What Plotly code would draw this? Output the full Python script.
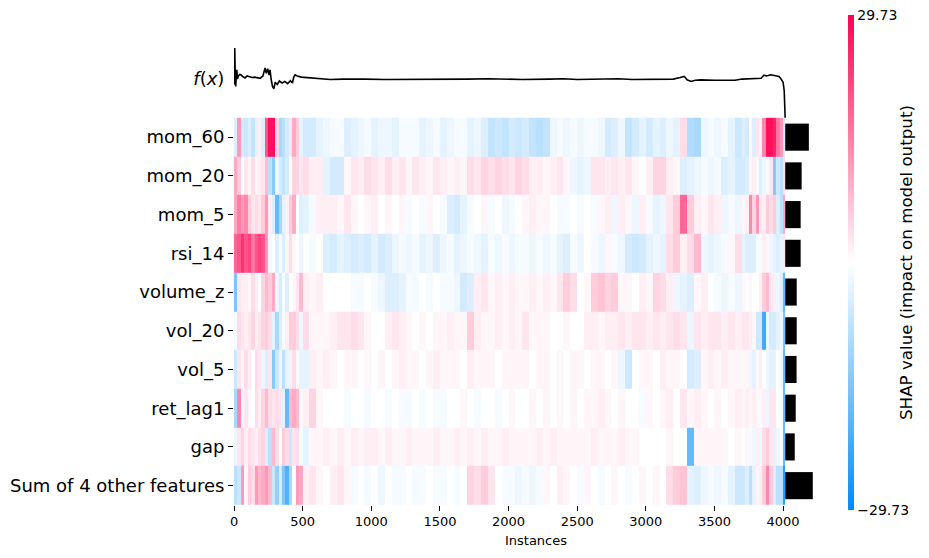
import numpy as np
import plotly.graph_objects as go

n_instances = 4016
# block edges of the heatmap (instances): 25-wide at both ends, 50-wide in the middle
block_starts = np.concatenate([np.arange(0, 500, 25), np.arange(500, 3700, 50),
                               np.arange(3700, 4000, 25), [4000]])

features = ["mom_60", "mom_20", "mom_5", "rsi_14", "volume_z", "vol_20",
            "vol_5", "ret_lag1", "gap", "Sum of 4 other features"]

# SHAP values per block
mom_60 = [-4, 12, -5, -6, -4, -7, -3, 2, -4, 20, 28, 28, 5, -10, -8, -5, 3, 10, 6, -3,
          -5, -5, -3, -2, -1, -1, -4, -3, -2, -1, -3, -2, -2, -3, -1, -1, -1, -3, -2, -1, -3, -2,
          -1, -1, -3, -2, -4, -7, -6, -7, -5, -6, -5, -7, -8, -7, -2, -1, -2, -1, -2, -1, -1, -2,
          -5, -4, -2, -7, -5, -3, -5, -3, -4, -2, -3, 4, -9, -10, -2, -1, -2, -1, -3, -6,
          -4, -5, 1, -4, 3, 2, 14, 28, 28, 26, 16, 12, -5]
mom_20 = [10, 6, 0, 3, 1, 4, 1, 2, 3, 8, -8, -14, -2, -5, -7, -5, 0, 5, 5, 3,
          4, 2, 2, -3, -5, -5, 1, 3, 2, 4, 3, 2, 4, 2, 3, 1, 3, 2, 1, 3, 2,
          1, 2, 1, 4, 3, 5, 4, 5, 4, 3, 5, 4, 2, 2, 1, 2, 3, 1, -2, -3, -2, 3, 3,
          2, 3, 2, 3, 1, 0, 2, 5, 5, 2, 1, -4, -3, -2, -1, -2, -1, -4, -3, -5,
          -5, -4, 1, 2, -1, -4, -2, -1, 3, -14, -6, -8, 4]
mom_5 = [10, 15, 12, 14, 6, 3, 4, 3, 6, 12, 2, -4, -18, -10, -3, 2, 6, 10, 0, -4,
         -3, -1, 2, 2, 2, 1, 3, 1, 0, 1, 2, 0, 1, 0, 1, -1, 0, -1, 1, 0, -1,
         -4, -5, -3, -1, 0, 1, -1, 0, -2, -1, 0, 1, 2, 1, 1, 0, -1, -1, 0, -1, 0,
         -1, 1, 2, -2, 2, 1, -2, 2, -1, -3, -2, 3, 6, 18, 6, 2, 1, 3, 2, -2, -1, -2,
         1, 2, 14, 5, 12, 3, 2, 6, 4, 6, -4, -8, 10]
rsi_14 = [18, 20, 24, 20, 22, 16, 20, 22, 20, 12, -2, 0, -4, -1, -4, 1, 4, 1, 0, -2,
          0, -1, 0, -4, -5, -3, -4, -5, -4, -5, -3, -5, -4, -2, -1, -2, -1, -3, -2, -4, -2,
          -1, -3, -2, -1, -2, -3, -1, -2, -1, -2, -1, -1, -2, -1, -2, -1, -3, -4, -1, -2, 0,
          -1, -2, 1, -1, -2, -5, -6, -5, -3, -2, -3, 4, 6, 2, 4, 8, -2, -3, -2, -1, 1, 4,
          -3, -4, -4, -4, -1, -1, 2, 1, -2, -3, -4, -3, 3]
volume_z = [-15, 3, 2, 2, 1, 4, 2, 0, 5, 8, 6, 10, -2, -5, -1, -4, 0, 1, 3, 8,
            2, 1, 2, 0, 0, 0, 0, -1, -1, 0, -1, -2, -4, -4, -3, -1, -1, 0, -1, 0, -1,
            -1, -2, -5, -4, 2, 3, 1, 2, 1, 2, 1, 1, 2, 1, 2, 1, 3, 6, 4, 0, 1,
            6, 7, 5, 6, 1, 1, 0, 2, 1, 5, 4, 2, -2, -3, -4, 1, 2, 0, -1, -2, -1, -2,
            1, 0, 1, 0, 0, 2, 6, 8, 3, 2, -2, -4, -18]
vol_20 = [-1, 4, 3, 2, 3, 5, 2, 3, 5, 6, 4, -3, -10, -4, -1, 2, 6, 6, 4, -2,
          4, 1, 1, 1, 2, 3, 3, 4, 3, 1, 0, 0, 2, 3, 2, 1, 0, 1, 0, 1, 1,
          2, 1, 1, 6, 2, 1, 1, 2, 1, 2, 1, 3, 1, 1, 1, 0, 0, 1, 0, 0, 2,
          2, 1, 2, 2, 3, 2, 3, 3, 2, 3, 2, 3, 4, 3, -2, 3, 2, 3, 3, 2, 3, 2,
          3, 3, 2, 1, -6, -5, -22, -2, -5, -5, -3, -2, -15]
vol_5 = [-6, 3, 1, 4, 2, 0, 4, 3, -2, -4, 3, -14, -6, -2, -8, -3, 2, 4, 1, -3,
         -3, 2, 1, 2, 1, 0, 1, 1, 0, 1, 0, 1, 0, 1, 2, 1, 1, 0, 1, 2, 1,
         1, 1, 0, 2, 1, 1, 1, 0, 1, 1, 1, 1, 0, 1, 1, 0, 1, 0, 1, 1, 0,
         1, 1, 0, 1, -2, -6, 0, 1, 1, 0, 2, 1, 1, 0, -5, -4, 1, 2, 1, 2, 1, 1,
         1, 1, -2, -3, 1, 2, 0, -2, -3, -3, 0, -2, -18]
ret_lag1 = [-10, 14, -2, 3, 1, 0, 4, 2, 5, 8, 4, 3, 4, 3, -3, -18, 8, 10, 8, 1,
            2, 5, 1, 0, 0, 0, -1, 0, 0, -1, 0, 0, -1, 0, -1, -1, 0, -1, 0, -1, -1,
            0, 0, 1, 0, -1, 0, 0, -1, 0, 1, 0, 0, 1, 0, 1, 0, 1, 0, 1, 0, 1,
            1, 2, 1, 0, 1, 0, 0, -1, 1, 0, 1, 2, 0, 3, 1, 2, 1, 0, 1, 0, 1, 2,
            1, 2, 1, 2, 1, -1, 2, -2, 3, 3, 0, -1, -18]
gap = [-2, 3, 5, 2, 4, 3, 2, 4, 5, -4, -8, 8, 4, 0, 6, 4, -6, 3, 4, -1,
       -3, 1, 1, 2, 1, 2, 1, 2, 1, 2, 2, 1, 2, 1, 1, 2, 1, 1, 1, 2, 1,
       1, 2, 1, 2, 1, 2, 1, 1, 2, 1, 1, 1, 1, 2, 1, 2, 1, 1, 1, 1, 1,
       2, 1, 1, 1, 2, 1, 1, 0, 0, 0, 0, 1, 0, 0, -18, 1, 1, 1, 1, 1, 0, 1,
       0, 1, -1, -2, 2, -2, 4, 6, 3, -3, -2, -1, -18]
other_4 = [-8, -6, 12, 1, 6, 4, 12, 8, 10, 12, 8, -6, -12, -5, -15, -20, -10, 0, 12, 10,
           2, 3, 1, 0, 2, 3, 1, -1, 0, -1, 0, -2, 0, -1, -1, 0, -1, -1, 0, -1, -1,
           0, -1, 0, 5, 4, 6, 3, 0, -1, -1, -2, -1, -2, -1, 1, 0, 2, 1, 0, -1, 1,
           0, -1, 0, 1, 0, -1, 0, 1, 0, 1, 0, 4, 6, 7, -3, -4, -2, -1, -2, -1, -3, -6,
           -6, -4, -8, -3, 1, 2, 6, 14, 6, -4, -8, -8, -25]

mean_abs_shap = [3.60, 2.50, 2.35, 2.35, 1.75, 1.75, 1.73, 1.60, 1.45, 4.20]

# model output f(x) along the instance order
fx_instance = [0, 3, 5, 8, 12, 16, 20, 25, 30, 40, 50, 65, 80, 95, 110, 130, 150, 170, 190,
               210, 226, 235, 245, 255, 262, 270, 280, 290, 300, 315, 330, 350, 370, 390,
               410, 425, 435, 445, 460, 490, 530, 580, 650, 700, 800, 880, 950, 1100, 1300,
               1500, 1700, 1850, 1950, 2100, 2300, 2400, 2500, 2750, 2800, 2900, 3100, 3200,
               3250, 3280, 3300, 3330, 3360, 3400, 3500, 3650, 3700, 3760, 3800, 3840, 3860,
               3880, 3910, 3940, 3970, 3985, 4000, 4008, 4015]
fx_value = [-14, 30, 80, 20, -19, 10, 24, 0, 7, 12, 11, 6, 3, 8, 7, 4, 5, 3, 2,
            8, 29, 15, 27, 10, 24, 0, -19, -25, -8, -14, -5, -10, -6, -12,
            -4, -10, 5, 11, 8, 5, 4, 2, 0, -1, 0, -1, 0, -1, -1,
            -1, 0, 1, 0, -1, 0, 1, -1, 0, 1, -1, -1, 0,
            4, 7, -2, -6, -3, -2, -3, -3, 0, 1, 3, 2, 10,
            8, 11, 8, 7, 0, -8, -30, -100]

color_limit = 29.73

font = "DejaVu Sans"
rows = list(range(len(features)))
z = [mom_60, mom_20, mom_5, rsi_14, volume_z, vol_20, vol_5, ret_lag1, gap, other_4]
edges = list(block_starts - 0.5) + [n_instances - 0.5]

fx = np.array(fx_value, dtype=float)
fx_y = -fx / np.abs(fx).max() - 1.5

imp = np.array(mean_abs_shap)
bar_len = imp / imp.max() * n_instances / 20

# plot area in figure pixels: left 226, width 604, top 13, height 484
fig = go.Figure()
fig.add_trace(go.Heatmap(
    z=z, x=edges, y=rows, zmin=-color_limit, zmax=color_limit,
    colorscale=[[0, "#008bfb"], [0.5, "#ffffff"], [1, "#ff0052"]],
    hoverinfo="skip",
    colorbar=dict(
        x=(840 - 226) / 604, xanchor="left", xpad=0,
        y=1 - (254.5 - 13) / 484, yanchor="middle", ypad=0,
        len=495, lenmode="pixels", thickness=6, outlinewidth=0,
        tickvals=[-color_limit, color_limit],
        ticktext=["\u221229.73", "29.73"],
        ticks="", ticklabeloverflow="allow",
        tickfont=dict(family=font, size=14, color="black"),
    ),
))
fig.add_trace(go.Bar(
    y=rows, x=bar_len, base=n_instances - 0.5, orientation="h", width=0.7,
    marker=dict(color="black", line=dict(width=0)), hoverinfo="skip", showlegend=False,
))
fig.add_trace(go.Scatter(
    x=fx_instance, y=fx_y, yaxis="y2", mode="lines",
    line=dict(color="black", width=1.6), hoverinfo="skip", showlegend=False,
))

fig.add_annotation(
    text="SHAP value (impact on model output)", textangle=-90,
    xref="paper", yref="paper", x=(898 - 226) / 604, y=1 - (255 - 13) / 484,
    xanchor="center", yanchor="middle", showarrow=False,
    font=dict(family=font, size=16.7, color="black"),
)

fig.update_layout(
    width=921, height=550,
    margin=dict(l=226, r=91, t=13, b=53, autoexpand=False),
    paper_bgcolor="white", plot_bgcolor="white",
    font=dict(family=font, color="black"),
    showlegend=False,
    xaxis=dict(
        range=[-0.5, 4400], tickvals=list(range(0, 4001, 500)),
        ticks="outside", ticklen=4.5, tickwidth=1.1, tickcolor="black",
        showgrid=False, zeroline=False, showline=False,
        tickfont=dict(family=font, size=13, color="black"),
        title=dict(text="Instances", standoff=7, font=dict(family=font, size=13, color="black")),
    ),
    yaxis=dict(
        range=[len(features) - 0.5, -3], tickvals=rows, ticktext=features,
        ticks="outside", ticklen=5, tickwidth=1.1, tickcolor="black",
        showgrid=False, zeroline=False, showline=False,
        tickfont=dict(family=font, size=18, color="black"),
    ),
    yaxis2=dict(
        overlaying="y", side="left", anchor="x",
        range=[len(features) - 0.5, -3], tickvals=[-1.5], ticktext=["<i>f</i>(<i>x</i>)"],
        ticks="outside", ticklen=5, tickcolor="rgba(0,0,0,0)",
        showgrid=False, zeroline=False, showline=False,
        tickfont=dict(family=font, size=18, color="black"),
    ),
)

fig.write_html("out.html")
